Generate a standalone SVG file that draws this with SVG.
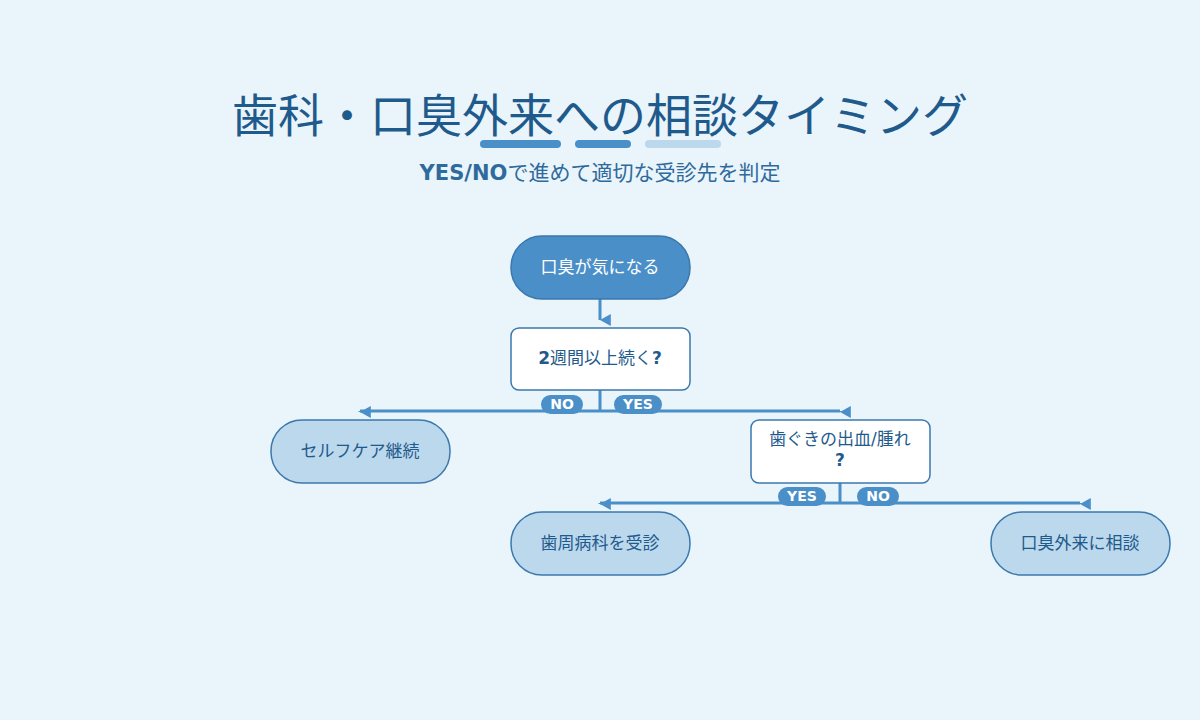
<svg xmlns="http://www.w3.org/2000/svg" width="1200" height="720" viewBox="0 0 1200 720">
<style>
text{font-family:"DejaVu Sans","Noto Sans CJK JP",sans-serif;text-anchor:middle}
.t{font-size:46px;fill:#1f5a8c}
.s{font-size:21px;fill:#2f6a9c}
.n{stroke:#3a78ad;stroke-width:1.5}
.l{font-size:17px;fill:#1f5a8c}
.w{fill:#fff}
.c{stroke:#4a8fc8;stroke-width:3;fill:none}
.p{fill:#4a8fc8}
.pl{font-size:14px;font-weight:bold;fill:#fff}
</style>
<defs><marker id="a" viewBox="0 0 10 10" refX="5" refY="9" markerWidth="5" markerHeight="4" orient="auto-start-reverse" markerUnits="strokeWidth"><path d="M0,0L10,0L5,9z" fill="#4a8fc8"/></marker></defs>
<rect width="1200" height="720" fill="#e9f4fb"/>
<text class="t" x="600" y="132">歯科・口臭外来への相談タイミング</text>
<rect x="480" y="140" width="81" height="8" rx="4" fill="#4a8fc8"/>
<rect x="575" y="140" width="56" height="8" rx="4" fill="#4a8fc8"/>
<rect x="645" y="140" width="76" height="8" rx="4" fill="#bcd8ec"/>
<text class="s" x="600" y="180"><tspan font-weight="bold">YES/NO</tspan>で進めて適切な受診先を判定</text>
<g id="connectors">
<path class="c" d="M600,299V320" marker-end="url(#a)"/>
<path class="c" d="M600,390V411M360,411H840"/>
<path class="c" d="M360,411V412" marker-end="url(#a)"/>
<path class="c" d="M840,411V412" marker-end="url(#a)"/>
<path class="c" d="M840,483V503M600,503H1080"/>
<path class="c" d="M600,503V504" marker-end="url(#a)"/>
<path class="c" d="M1080,503V504" marker-end="url(#a)"/>
<rect class="p" x="541" y="395" width="42" height="19" rx="9.5"/><text class="pl" x="562" y="409">NO</text>
<rect class="p" x="614" y="395" width="48" height="19" rx="9.5"/><text class="pl" x="638" y="409">YES</text>
<rect class="p" x="778" y="487" width="48" height="19" rx="9.5"/><text class="pl" x="802" y="501">YES</text>
<rect class="p" x="857" y="487" width="42" height="19" rx="9.5"/><text class="pl" x="878" y="501">NO</text>
</g>
<g id="start"><rect class="n" x="511" y="236" width="179" height="63" rx="31" fill="#4a8fc8"/><text class="l w" x="600" y="273">口臭が気になる</text></g>
<g id="q1"><rect class="n" x="511" y="328" width="179" height="62" rx="8" fill="#fff"/><text class="l" x="600" y="364"><tspan font-weight="bold">2</tspan>週間以上続く<tspan font-weight="bold">?</tspan></text></g>
<g id="self"><rect class="n" x="271" y="420" width="179" height="63" rx="31" fill="#bcd8ec"/><text class="l" x="360" y="457">セルフケア継続</text></g>
<g id="q2"><rect class="n" x="751" y="420" width="179" height="63" rx="8" fill="#fff"/><text class="l" x="840" y="445">歯ぐきの出血/腫れ</text><text class="l" x="840" y="466" font-weight="bold">?</text></g>
<g id="perio"><rect class="n" x="511" y="512" width="179" height="63" rx="31" fill="#bcd8ec"/><text class="l" x="600" y="549">歯周病科を受診</text></g>
<g id="clinic"><rect class="n" x="991" y="512" width="179" height="63" rx="31" fill="#bcd8ec"/><text class="l" x="1080" y="549">口臭外来に相談</text></g>
</svg>
